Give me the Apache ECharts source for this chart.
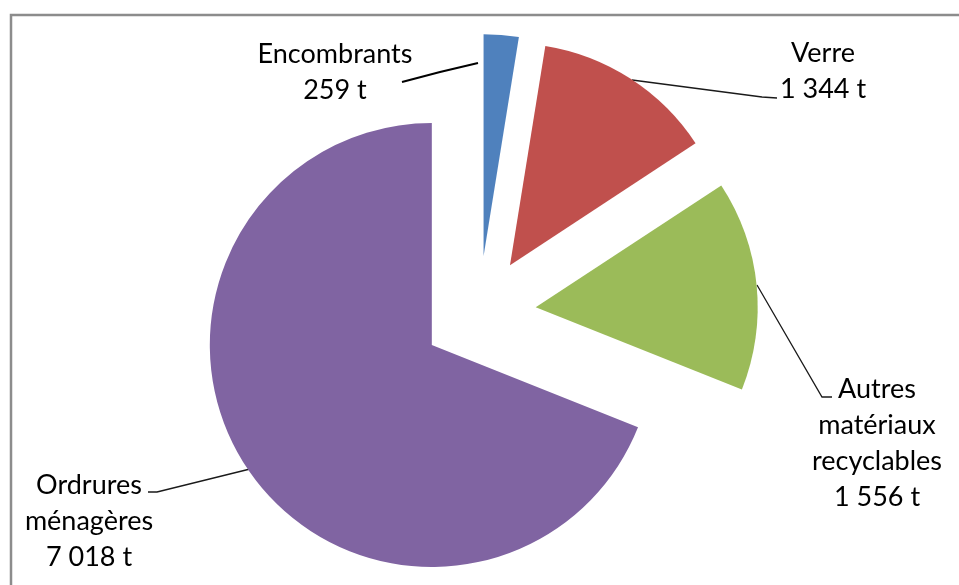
<!DOCTYPE html>
<html>
<head>
<meta charset="utf-8">
<script src="https://cdn.jsdelivr.net/npm/echarts@6/dist/echarts.min.js"></script>
<style>
  html, body { margin: 0; padding: 0; background: #ffffff; }
  #chart { width: 959px; height: 585px; }
</style>
</head>
<body>
<div id="chart"></div>
<script>
// Waste tonnages by stream
const categories = ['Encombrants', 'Verre', 'Autres matériaux recyclables', 'Ordrures ménagères'];
const tonnages = [259, 1344, 1556, 7018];
const colors = ['#4f81bd', '#c0504d', '#9bbb59', '#8064a2'];

// French-style thousands separator
function fmt(v) {
  return String(v).replace(/\B(?=(\d{3})+(?!\d))/g, ' ');
}

// Pie geometry
const CX = 479, CY = 313, R = 222, EXPLODE = 57;

// Label anchor (text block centre) and leader line for each slice
const labelSpots = [
  { x: 335, y: 72, line: [[478, 63], [440, 72], [402, 82]] },
  { x: 823, y: 71, line: [[632, 80], [762, 97], [777, 98]] },
  { x: 877, y: 443, line: [[757, 285], [822, 397], [832, 397]] },
  { x: 89, y: 521, line: [[250, 469], [157, 492], [148, 492]] }
];

// Each slice is pushed outward along its bisector: one pie series per slice,
// the other slices of that series left invisible.
const total = tonnages.reduce((a, b) => a + b, 0);
let acc = 0;
const series = categories.map((_, k) => {
  const mid = (acc + tonnages[k] / 2) / total * 2 * Math.PI;
  acc += tonnages[k];
  const center = [CX + EXPLODE * Math.sin(mid), CY - EXPLODE * Math.cos(mid)];
  return {
    type: 'pie',
    center: center,
    radius: R,
    startAngle: 90,
    clockwise: true,
    selectedMode: false,
    avoidLabelOverlap: false,
    silent: true,
    emphasis: { disabled: true },
    itemStyle: { borderWidth: 0 },
    label: {
      show: true,
      position: 'outside',
      color: '#000000',
      fontFamily: 'Lato',
      fontSize: 27,
      lineHeight: 36,
      formatter: p => p.name.split(' ').join('\n') + '\n' + fmt(p.value) + ' t'
    },
    labelLine: {
      show: true,
      lineStyle: { color: '#1a1a1a', width: 1.3 }
    },
    labelLayout: p => {
      if (p.dataIndex !== k) return {};
      const s = labelSpots[k];
      return {
        x: s.x,
        y: s.y,
        align: 'center',
        verticalAlign: 'middle',
        labelLinePoints: s.line
      };
    },
    data: categories.map((name, i) => {
      const own = i === k;
      return {
        name: name,
        value: tonnages[i],
        itemStyle: { color: own ? colors[i] : 'rgba(0,0,0,0)' },
        label: { show: own },
        labelLine: own
          ? (i === 0 ? { show: true, lineStyle: { width: 2, color: '#000000' } } : { show: true })
          : { show: false }
      };
    })
  };
});

const chart = echarts.init(document.getElementById('chart'), null, { renderer: 'canvas' });

chart.setOption({
  animation: false,
  backgroundColor: '#ffffff',
  graphic: [
    {
      type: 'polyline',
      shape: { points: [[11, 590], [11, 15], [965, 15]] },
      style: { stroke: '#8c8c8c', lineWidth: 2.5, fill: null },
      silent: true
    }
  ],
  series: series
});
</script>
</body>
</html>
